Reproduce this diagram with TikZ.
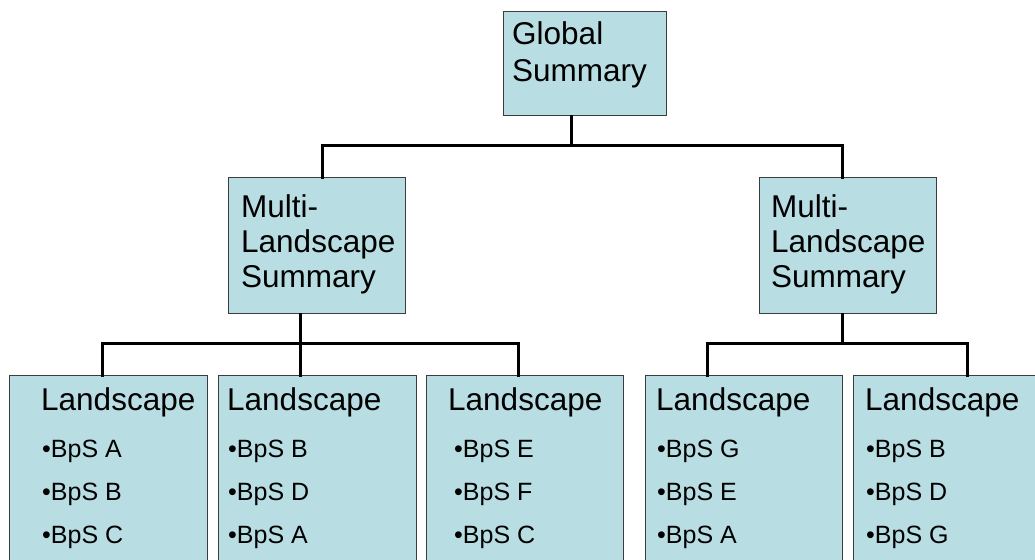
\documentclass[tikz,border=0pt]{standalone}
\usepackage{fontspec}
\setmainfont{Liberation Sans}
\definecolor{boxfill}{RGB}{184,222,227}
\definecolor{boxline}{RGB}{60,60,60}
\tikzset{
  box/.style={draw=boxline, line width=1.3pt, fill=boxfill, anchor=north west, inner sep=0pt},
  conn/.style={draw=black, line width=3pt, line cap=rect},
  big/.style={anchor=base west, inner sep=0pt, font=\fontsize{31.5}{36}\selectfont},
  small/.style={anchor=base west, inner sep=0pt, font=\fontsize{25}{30}\selectfont},
}
\begin{document}
\begin{tikzpicture}[x=1pt,y=-1pt]
\useasboundingbox (0,0) rectangle (1035,559);
\clip (0,0) rectangle (1035,559);
\fill[white] (0,0) rectangle (1035,559);

\coordinate (gx) at (571,0);
\coordinate (m1in) at (322,0);
\coordinate (m2x) at (842,0);
\coordinate (m1out) at (300,0);

% boxes
\node[box, minimum width=163pt, minimum height=104pt] (g) at (503,11) {};
\node[box, minimum width=177pt, minimum height=136pt] (m1) at (228,177) {};
\node[box, minimum width=177pt, minimum height=136pt] (m2) at (759,177) {};
\node[box, minimum width=198pt, minimum height=220pt] (l1) at (9,375) {};
\node[box, minimum width=198pt, minimum height=220pt] (l2) at (218,375) {};
\node[box, minimum width=197pt, minimum height=220pt] (l3) at (426,375) {};
\node[box, minimum width=197pt, minimum height=220pt] (l4) at (645,375) {};
\node[box, minimum width=400pt, minimum height=220pt] (l5) at (853,375) {};

% connectors
\draw[conn] (g.south -| gx) -- (571,145) -| (m1.north -| m1in);
\draw[conn] (571,145) -| (m2.north -| m2x);
\draw[conn] (m1.south -| m1out) -- (300,343) -| (l1.north -| 102,0);
\draw[conn] (300,343) -- (l2.north -| m1out);
\draw[conn] (300,343) -| (l3.north -| 518,0);
\draw[conn] (m2.south -| m2x) -- (842,343) -| (l4.north -| 707,0);
\draw[conn] (842,343) -| (l5.north -| 967,0);

% texts
\node[big] (g1) at (512,45) {Global};
\node[big] (g2) at (512,82) {Summary};

\node[big] (a1) at (241,217) {Multi-};
\node[big] (a2) at (241,252) {Landscape};
\node[big] (a3) at (241,287) {Summary};

\node[big] (b1) at (771,217) {Multi-};
\node[big] (b2) at (771,252) {Landscape};
\node[big] (b3) at (771,287) {Summary};

\node[big] (t1) at (41,410) {Landscape};
\node[small] (t1a) at (42,457) {•BpS A};
\node[small] (t1b) at (42,500) {•BpS B};
\node[small] (t1c) at (42,543) {•BpS C};

\node[big] (t2) at (227,410) {Landscape};
\node[small] (t2a) at (228,457) {•BpS B};
\node[small] (t2b) at (228,500) {•BpS D};
\node[small] (t2c) at (228,543) {•BpS A};

\node[big] (t3) at (448,410) {Landscape};
\node[small] (t3a) at (454,457) {•BpS E};
\node[small] (t3b) at (454,500) {•BpS F};
\node[small] (t3c) at (454,543) {•BpS C};

\node[big] (t4) at (656,410) {Landscape};
\node[small] (t4a) at (657,457) {•BpS G};
\node[small] (t4b) at (657,500) {•BpS E};
\node[small] (t4c) at (657,543) {•BpS A};

\node[big] (t5) at (865,410) {Landscape};
\node[small] (t5a) at (866,457) {•BpS B};
\node[small] (t5b) at (866,500) {•BpS D};
\node[small] (t5c) at (866,543) {•BpS G};
\end{tikzpicture}
\end{document}
